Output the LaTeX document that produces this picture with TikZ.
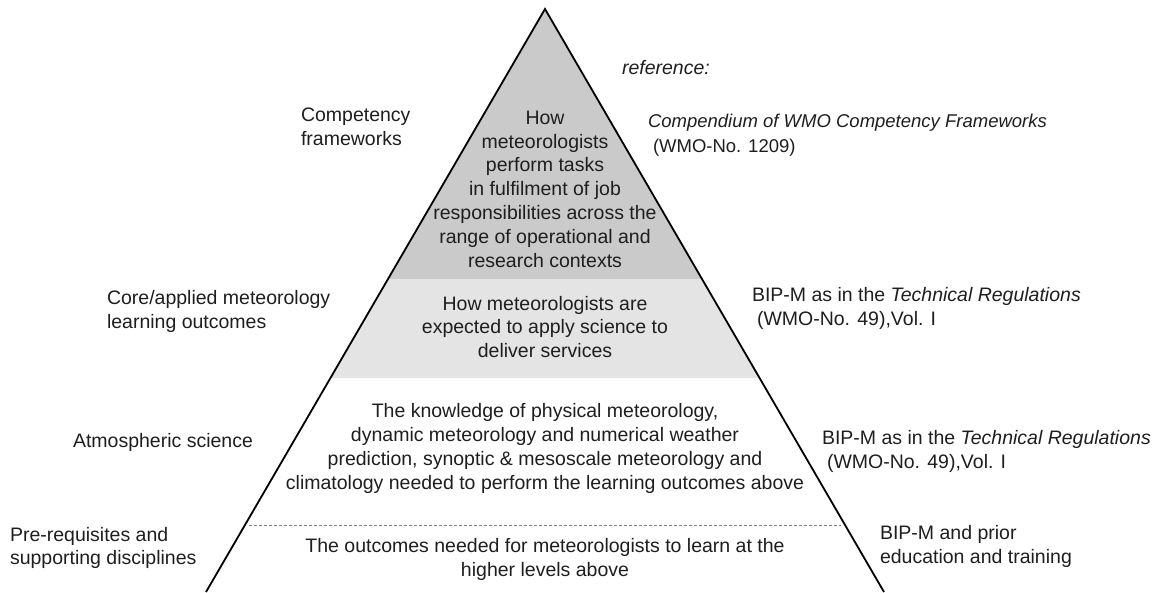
\documentclass[tikz,border=0pt]{standalone}
\usepackage{fontspec}
\setmainfont{Liberation Sans}
\definecolor{darkband}{RGB}{202,202,202}
\definecolor{lightband}{RGB}{228,228,228}
\definecolor{txt}{RGB}{30,30,30}
\begin{document}
\begin{tikzpicture}[x=1pt,y=-1pt,
  every node/.style={inner sep=0pt,outer sep=0pt,text=txt,font=\fontsize{19.5}{23.8}\selectfont},
  inbox/.style={align=center,anchor=center},
  lbl/.style={align=left,anchor=west},
  side/.style={line width=1.8pt,black},
  divider/.style={dashed,dash pattern=on 3pt off 2pt,line width=0.8pt,gray}]
\useasboundingbox (0,0) rectangle (1159,592);
% geometry
\coordinate (apex) at (545,9);
\coordinate (bl) at (206,592);
\coordinate (br) at (884,592);
\coordinate (d1l) at (388,279);
\coordinate (d1r) at (702,279);
\coordinate (d2l) at (330.4,378);
\coordinate (d2r) at (759.6,378);
\coordinate (dl) at (249,525);
\coordinate (dr) at (841,525);
% bands
\fill[darkband] (apex) -- (d1r) -- (d1l) -- cycle;
\fill[lightband] (d1l) -- (d1r) -- (d2r) -- (d2l) -- cycle;
\draw[divider] (dl) -- (dr);
\draw[side,line join=miter] (bl) -- (apex) -- (br);
% texts inside the pyramid
\node[inbox] (t1) at (545,189) {How\\meteorologists\\perform tasks\\in fulfilment of job\\responsibilities across the\\range of operational and\\research contexts};
\node[inbox] (t2) at (545,327) {How meteorologists are\\expected to apply science to\\deliver services};
\node[inbox] (t3) at (545,448.5) {The knowledge of physical meteorology,\\dynamic meteorology and numerical weather\\prediction, synoptic \& mesoscale meteorology and\\climatology needed to perform the learning outcomes above};
\node[inbox] (t4) at (545,559.5) {The outcomes needed for meteorologists to learn at the\\higher levels above};
% left labels
\node[lbl] (l1) at (301,126.5) {Competency\\frameworks};
\node[lbl] (l2) at (107,311.5) {Core/applied meteorology\\learning outcomes};
\node[lbl] (l3) at (73,442) {Atmospheric science};
\node[lbl] (l4) at (10,548) {Pre-requisites and\\supporting disciplines};
% right labels
\node[lbl] (ref) at (622,68) {\itshape reference:};
\node[lbl,font=\fontsize{18.5}{25}\selectfont] (r1) at (648,135.5) {\itshape Compendium of WMO Competency Frameworks\\\hspace*{5pt}(WMO-No. 1209)};
\node[lbl] (r2) at (752,308.5) {BIP-M as in the \textit{Technical Regulations}\\\hspace*{5pt}(WMO-No. 49),Vol. I};
\node[lbl] (r3) at (822,451.5) {BIP-M as in the \textit{Technical Regulations}\\\hspace*{5pt}(WMO-No. 49),Vol. I};
\node[lbl] (r4) at (880,546.5) {BIP-M and prior\\education and training};
\end{tikzpicture}
\end{document}
